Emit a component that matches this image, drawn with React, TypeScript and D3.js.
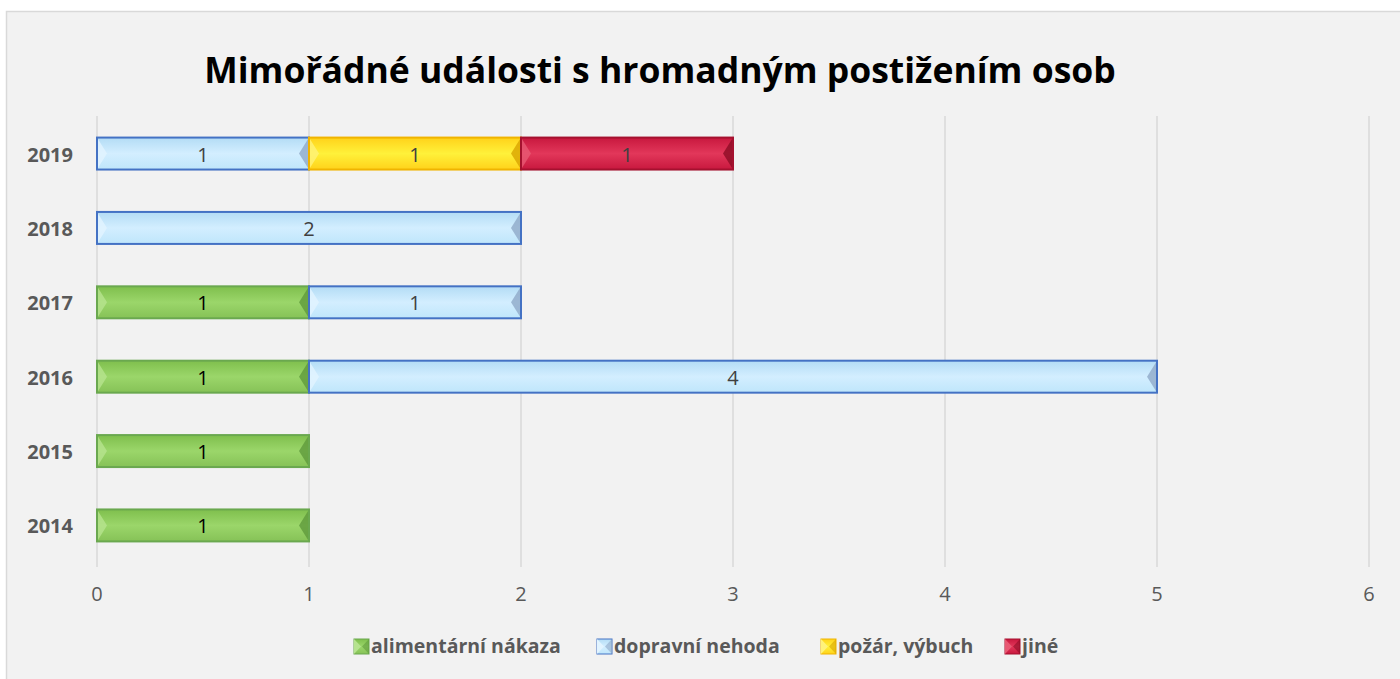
import * as d3 from "d3";

const years = ["2014", "2015", "2016", "2017", "2018", "2019"];
const seriesNames = ["alimentární nákaza", "dopravní nehoda", "požár, výbuch", "jiné"];
const alimentarni = [1, 1, 1, 1, 0, 0];
const dopravni = [0, 0, 4, 1, 2, 1];
const pozar = [0, 0, 0, 0, 0, 1];
const jine = [0, 0, 0, 0, 0, 1];
const xTicks = [0, 1, 2, 3, 4, 5, 6];

const styles = [
  { top: "#7fbf4d", mid: "#9bd66a", bot: "#86c257", stroke: "#6aa84f", light: "#b6e38f", dark: "#5f9a3c", text: "#000000" },
  { top: "#b3dcf5", mid: "#d3eeff", bot: "#bfe6fb", stroke: "#4472c4", light: "#e2f4ff", dark: "#8ea9c8", text: "#404040" },
  { top: "#ffd21a", mid: "#fff13a", bot: "#ffd21a", stroke: "#f0b400", light: "#fff27a", dark: "#d9a400", text: "#404040" },
  { top: "#c8183e", mid: "#e2375a", bot: "#c8183e", stroke: "#a5112f", light: "#e85a74", dark: "#8c0c24", text: "#404040" },
];

const W = 1400;
const H = 679;

export default function App() {
  const x = d3.scaleLinear().domain([0, 6]).range([97, 1369]);
  const y = d3.scaleBand().domain([...years].reverse()).range([116, 563]).paddingInner(0.57).paddingOuter(0.29);
  const values = [alimentarni, dopravni, pozar, jine];
  const rows = years.map((yr, i) => {
    const r: any = { year: yr };
    seriesNames.forEach((s, k) => (r[s] = values[k][i]));
    return r;
  });
  const stack = d3.stack<any>().keys(seriesNames)(rows);
  const bh = y.bandwidth();
  const bev = 10;

  return (
    <svg width={W} height={H} style={{ position: "absolute", left: 0, top: 0, fontFamily: "'Open Sans', sans-serif" }}>
      <defs>
        {styles.map((s, k) => (
          <linearGradient key={k} id={`g${k}`} x1="0" y1="0" x2="0" y2="1">
            <stop offset="0" stopColor={s.top} />
            <stop offset="0.5" stopColor={s.mid} />
            <stop offset="1" stopColor={s.bot} />
          </linearGradient>
        ))}
      </defs>
      <rect x={0} y={0} width={W} height={H} fill="#ffffff" />
      <rect x={6.5} y={11.5} width={W} height={H} fill="#f2f2f2" stroke="#d9d9d9" strokeWidth={1.5} />
      <text x={660} y={83} textAnchor="middle" fontSize={35.5} fontWeight="bold" fill="#000000">
        Mimořádné události s hromadným postižením osob
      </text>
      {xTicks.map((t) => (
        <g key={t}>
          <line x1={x(t)} x2={x(t)} y1={116} y2={567} stroke="#d9d9d9" strokeWidth={1.5} />
          <text x={x(t)} y={601} textAnchor="middle" fontSize={20} fill="#595959">
            {t}
          </text>
        </g>
      ))}
      {years.map((yr) => (
        <text key={yr} x={73} y={(y(yr) as number) + bh / 2 + 8} textAnchor="end" fontSize={20} fontWeight="bold" fill="#595959">
          {yr}
        </text>
      ))}
      {stack.map((layer, k) =>
        layer.map((d, i) => {
          const v = d[1] - d[0];
          if (!v) return null;
          const s = styles[k];
          const x0 = x(d[0]);
          const x1 = x(d[1]);
          const y0 = y(years[i]) as number;
          return (
            <g key={`${k}-${i}`}>
              <rect x={x0} y={y0} width={x1 - x0} height={bh} fill={`url(#g${k})`} />
              <path d={`M${x0},${y0}L${x0 + bev},${y0 + bh / 2}L${x0},${y0 + bh}Z`} fill={s.light} opacity={0.8} />
              <path d={`M${x1},${y0}L${x1 - bev},${y0 + bh / 2}L${x1},${y0 + bh}Z`} fill={s.dark} opacity={0.8} />
              <rect x={x0} y={y0} width={x1 - x0} height={bh} fill="none" stroke={s.stroke} strokeWidth={2} />
              <text x={(x0 + x1) / 2} y={y0 + bh / 2 + 8} textAnchor="middle" fontSize={20} fill={s.text}>
                {v}
              </text>
            </g>
          );
        })
      )}
      {seriesNames.map((name, k) => {
        const lx = [354, 597, 821, 1005][k];
        const s = styles[k];
        return (
          <g key={name}>
            <rect x={lx} y={639} width={15} height={15} fill={`url(#g${k})`} stroke={s.stroke} strokeWidth={1} />
            <path d={`M${lx},${639}L${lx + 7},${646.5}L${lx},${654}Z`} fill={s.light} />
            <path d={`M${lx + 15},${639}L${lx + 8},${646.5}L${lx + 15},${654}Z`} fill={s.dark} opacity={0.6} />
            <text x={lx + 17} y={653} fontSize={19.5} fontWeight="bold" fill="#595959">
              {name}
            </text>
          </g>
        );
      })}
    </svg>
  );
}
